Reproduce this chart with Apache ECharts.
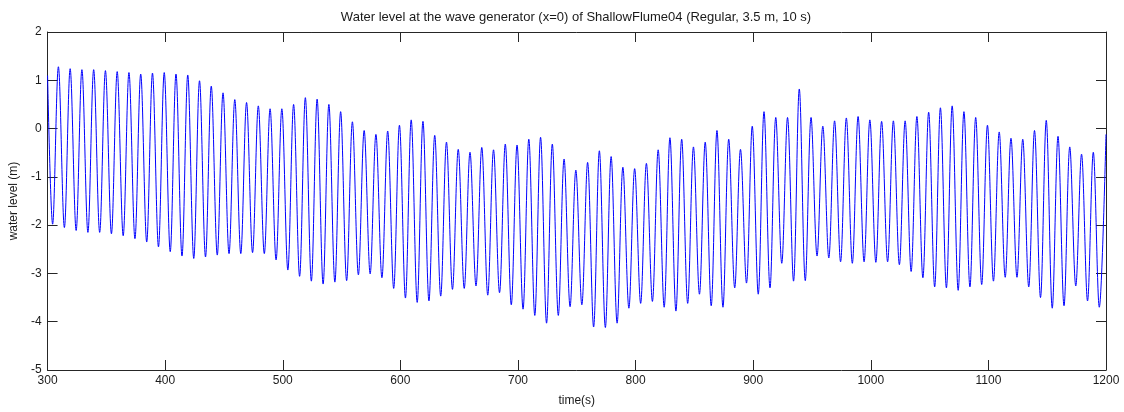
<!DOCTYPE html>
<html><head><meta charset="utf-8">
<script src="https://cdn.jsdelivr.net/npm/echarts@6/dist/echarts.min.js"></script>
<style>html,body{margin:0;padding:0;background:#fff}#c{width:1124px;height:412px}</style>
</head><body><div id="c"></div>
<script>
const titleText = "Water level at the wave generator (x=0) of ShallowFlume04 (Regular, 3.5 m, 10 s)";
const xName = "time(s)";
const yName = "water level (m)";
const xTicks = [300, 400, 500, 600, 700, 800, 900, 1000, 1100, 1200];
const yTicks = [-5, -4, -3, -2, -1, 0, 1, 2];

const startPoint = [300, 1.10];
const endPoint = [1200, -0.12];

const troughTime = [
  304.3,314.3,324.3,334.3,344.3,354.3,364.3,374.3,384.3,394.3,
  404.3,414.3,424.3,434.3,444.3,454.3,464.3,474.3,484.3,494.3,
  504.3,514.3,524.3,534.3,544.3,554.3,564.3,574.3,584.3,594.3,
  604.3,614.3,624.3,634.3,644.3,654.3,664.3,674.3,684.3,694.3,
  704.3,714.3,724.3,734.3,744.3,754.3,764.3,774.3,784.3,794.3,
  804.3,814.3,824.3,834.3,844.3,854.3,864.3,874.3,884.3,894.3,
  904.3,914.3,924.3,934.3,944.3,954.3,964.3,974.3,984.3,994.3,
  1004.3,1014.3,1024.3,1034.3,1044.3,1054.3,1064.3,1074.3,1084.3,1094.3,
  1104.3,1114.3,1124.3,1134.3,1144.3,1154.3,1164.3,1174.3,1184.3,1194.3
];
const troughLevel = [
  -1.98,-2.05,-2.11,-2.15,-2.15,-2.18,-2.22,-2.28,-2.35,-2.45,
  -2.55,-2.64,-2.69,-2.66,-2.62,-2.59,-2.59,-2.57,-2.59,-2.72,
  -2.93,-3.06,-3.16,-3.22,-3.18,-3.15,-3.03,-3.01,-3.09,-3.31,
  -3.51,-3.60,-3.57,-3.47,-3.33,-3.31,-3.26,-3.45,-3.40,-3.65,
  -3.74,-3.87,-4.03,-3.87,-3.69,-3.65,-4.11,-4.12,-4.03,-3.72,
  -3.62,-3.58,-3.70,-3.78,-3.62,-3.43,-3.67,-3.70,-3.30,-3.20,
  -3.43,-3.30,-2.79,-3.16,-3.15,-2.64,-2.68,-2.76,-2.79,-2.76,
  -2.77,-2.76,-2.82,-2.96,-3.09,-3.28,-3.30,-3.35,-3.28,-3.23,
  -3.16,-3.08,-3.08,-3.28,-3.50,-3.72,-3.67,-3.26,-3.57,-3.70
];
const peakTime = [
  309.2,319.2,329.2,339.2,349.2,359.2,369.2,379.2,389.2,399.2,
  409.2,419.2,429.2,439.2,449.2,459.2,469.2,479.2,489.2,499.2,
  509.2,519.2,529.2,539.2,549.2,559.2,569.2,579.2,589.2,599.2,
  609.2,619.2,629.2,639.2,649.2,659.2,669.2,679.2,689.2,699.2,
  709.2,719.2,729.2,739.2,749.2,759.2,769.2,779.2,789.2,799.2,
  809.2,819.2,829.2,839.2,849.2,859.2,869.2,879.2,889.2,899.2,
  909.2,919.2,929.2,939.2,949.2,959.2,969.2,979.2,989.2,999.2,
  1009.2,1019.2,1029.2,1039.2,1049.2,1059.2,1069.2,1079.2,1089.2,1099.2,
  1109.2,1119.2,1129.2,1139.2,1149.2,1159.2,1169.2,1179.2,1189.2
];
const peakLevel = [
  1.28,1.24,1.22,1.22,1.20,1.18,1.16,1.13,1.15,1.16,
  1.13,1.11,0.99,0.88,0.74,0.60,0.54,0.47,0.41,0.41,
  0.50,0.64,0.61,0.50,0.35,0.14,-0.04,-0.12,-0.05,0.07,
  0.18,0.15,-0.14,-0.28,-0.43,-0.49,-0.39,-0.44,-0.32,-0.34,
  -0.22,-0.18,-0.32,-0.63,-0.86,-0.70,-0.46,-0.58,-0.80,-0.83,
  -0.72,-0.44,-0.19,-0.22,-0.38,-0.28,-0.04,-0.22,-0.43,0.05,
  0.35,0.23,0.23,0.82,0.23,0.05,0.16,0.22,0.25,0.18,
  0.15,0.16,0.16,0.25,0.34,0.43,0.47,0.35,0.23,0.07,
  -0.07,-0.20,-0.22,-0.04,0.17,-0.16,-0.38,-0.53,-0.49
];

const points = [startPoint];
for (let i = 0; i < troughTime.length; i++) {
  points.push([troughTime[i], troughLevel[i]]);
  if (i < peakTime.length) points.push([peakTime[i], peakLevel[i]]);
}
points.push(endPoint);

const FONT = '"Liberation Sans", Arial, sans-serif';
const AX = '#262626';
const TXT = '#1a1a1a';
const xMin = xTicks[0], xMax = xTicks[xTicks.length - 1];
const yMin = yTicks[0], yMax = yTicks[yTicks.length - 1];

function xAxisDef(pos, withLabels) {
  return {
    type: 'value', position: pos, min: xMin, max: xMax, interval: 100,
    axisLine: { show: true, onZero: false, lineStyle: { color: AX, width: 1 } },
    axisTick: { show: true, inside: true, length: 10, lineStyle: { color: AX } },
    axisLabel: { show: withLabels, color: TXT, fontSize: 12, fontFamily: FONT, margin: 5,
                 formatter: function (v) { return String(v); } },
    splitLine: { show: false },
    name: withLabels ? xName : '', nameLocation: 'middle', nameGap: 25,
    nameTextStyle: { color: TXT, fontSize: 12, fontFamily: FONT }
  };
}
function yAxisDef(pos, withLabels) {
  return {
    type: 'value', position: pos, min: yMin, max: yMax, interval: 1,
    axisLine: { show: true, onZero: false, lineStyle: { color: AX, width: 1 } },
    axisTick: { show: true, inside: true, length: 10, lineStyle: { color: AX } },
    axisLabel: { show: withLabels, color: TXT, fontSize: 12, fontFamily: FONT, margin: 6,
                 formatter: function (v) { return String(v); } },
    splitLine: { show: false },
    name: withLabels ? yName : '', nameLocation: 'middle', nameGap: 18, nameRotate: 90,
    nameTextStyle: { color: TXT, fontSize: 12, fontFamily: FONT }
  };
}

const chart = echarts.init(document.getElementById('c'), null, { renderer: 'canvas' });
chart.setOption({
  animation: false,
  backgroundColor: '#ffffff',
  grid: { left: 46, right: 18, top: 32, bottom: 37, containLabel: false },
  graphic: [{
    type: 'text', x: 576, y: 17,
    style: { text: titleText, align: 'center', verticalAlign: 'middle',
             font: '13px ' + FONT, fill: TXT }
  }],
  xAxis: [xAxisDef('bottom', true), xAxisDef('top', false)],
  yAxis: [yAxisDef('left', true), yAxisDef('right', false)],
  series: [{
    type: 'line', xAxisIndex: 0, yAxisIndex: 0,
    data: points, showSymbol: false, symbol: 'none', smooth: 0.35,
    lineStyle: { color: '#0000ff', width: 1 }
  }]
});
</script>
</body></html>
